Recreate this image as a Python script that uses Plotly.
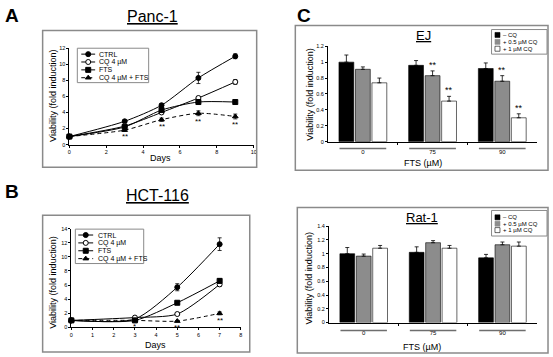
import plotly.graph_objects as go

W, H = 553, 357
FONT = "Liberation Sans, Arial, Helvetica, sans-serif"

# ---------------- data ----------------
series_names = ["CTRL", "CQ 4 µM", "FTS", "CQ 4 µM + FTS"]

# A: Panc-1
panc_days = [0, 3, 5, 7, 9]
panc_ctrl = [1.0, 2.9, 4.9, 8.3, 11.0]
panc_ctrl_err = [0.1, 0.15, 0.2, 0.7, 0.3]
panc_cq = [1.0, 2.3, 4.0, 5.8, 7.8]
panc_cq_err = [0.1, 0.1, 0.15, 0.2, 0.3]
panc_fts = [1.0, 2.2, 4.3, 5.3, 5.3]
panc_fts_err = [0.1, 0.1, 0.15, 0.15, 0.15]
panc_cqfts = [1.0, 1.8, 3.1, 3.9, 3.5]
panc_cqfts_err = [0.1, 0.15, 0.2, 0.3, 0.3]
panc_sig = ["", "**", "**", "**", "**"]

# B: HCT-116
hct_days = [0, 3, 5, 7]
hct_ctrl = [1.0, 1.2, 5.7, 11.8]
hct_ctrl_err = [0.1, 0.1, 0.5, 0.9]
hct_cq = [1.0, 1.4, 1.9, 6.1]
hct_cq_err = [0.1, 0.1, 0.15, 0.3]
hct_fts = [1.0, 1.0, 3.5, 6.6]
hct_fts_err = [0.1, 0.1, 0.2, 0.3]
hct_cqfts = [1.0, 1.0, 0.9, 2.0]
hct_cqfts_err = [0.1, 0.1, 0.1, 0.2]
hct_sig = ["", "*", "**", "**"]

# C: EJ and Rat-1
fts_doses = ["0", "75", "90"]
cq_names = ["– CQ", "+ 0.5 µM CQ", "+ 1 µM CQ"]
ej_vals = [[1.0, 0.96, 0.92], [0.91, 0.83, 0.76], [0.74, 0.51, 0.30]]
ej_err = [[0.09, 0.06, 0.07], [0.03, 0.06, 0.07], [0.06, 0.06, 0.05]]
ej_sig = [["", "", ""], ["", "**", "**"], ["", "**", "**"]]
rat_vals = [[1.0, 1.02, 0.94], [0.965, 1.16, 1.13], [1.08, 1.08, 1.11]]
rat_err = [[0.09, 0.08, 0.05], [0.03, 0.03, 0.04], [0.04, 0.04, 0.06]]

# ---------------- styles ----------------
line_styles = [
    dict(symbol="circle", fill="black", dash="solid"),
    dict(symbol="circle", fill="white", dash="solid"),
    dict(symbol="square", fill="black", dash="solid"),
    dict(symbol="triangle-up", fill="black", dash="4px,3px"),
]
bar_colors = ["black", "#8c8c8c", "white"]
BARGAP = 0.29
BARGROUPGAP = 0.1
MSIZE = 5


def px(x):
    return x / W


def py(y):
    return 1 - y / H


fig = go.Figure()
annotations = []
shapes = []


def add_lines(days, series, errs, sig, xa, ya):
    for name, ys, es, st in zip(series_names, series, errs, line_styles):
        fig.add_trace(go.Scatter(
            x=days, y=ys, mode="lines+markers", name=name,
            line=dict(color="black", width=1, dash=st["dash"], shape="spline", smoothing=0.7),
            marker=dict(symbol=st["symbol"], size=MSIZE, color=st["fill"],
                        line=dict(color="black", width=1)),
            error_y=dict(type="data", array=es, color="black", thickness=0.8, width=2),
            xaxis=xa, yaxis=ya, showlegend=False, cliponaxis=False))
    last = series[-1]
    lerr = errs[-1]
    for d, v, e, s in zip(days, last, lerr, sig):
        if s:
            annotations.append(dict(x=d, y=v - e, xref=xa, yref=ya, text=s, showarrow=False,
                                    yanchor="top", yshift=1, height=6, valign="top",
                                    font=dict(size=8, family=FONT, color="black")))


add_lines(panc_days, [panc_ctrl, panc_cq, panc_fts, panc_cqfts],
          [panc_ctrl_err, panc_cq_err, panc_fts_err, panc_cqfts_err], panc_sig, "x", "y")
add_lines(hct_days, [hct_ctrl, hct_cq, hct_fts, hct_cqfts],
          [hct_ctrl_err, hct_cq_err, hct_fts_err, hct_cqfts_err], hct_sig, "x2", "y2")

slot = (1 - BARGAP) / 3
for xa, ya, vals, errs, sig in [("x3", "y3", ej_vals, ej_err, ej_sig),
                                ("x4", "y4", rat_vals, rat_err, None)]:
    for i, (name, v, e, c) in enumerate(zip(cq_names, vals, errs, bar_colors)):
        fig.add_trace(go.Bar(
            x=list(range(len(fts_doses))), y=v, name=name, offsetgroup=str(i),
            marker=dict(color=c, line=dict(color="black", width=0.6)),
            error_y=dict(type="data", array=e, arrayminus=[0] * len(e), symmetric=False,
                         color="black", thickness=0.8, width=2),
            xaxis=xa, yaxis=ya, showlegend=False))
        if sig:
            for j, s in enumerate(sig[i]):
                if s:
                    annotations.append(dict(x=j + (i - 1) * slot, y=v[j] + e[j], xref=xa, yref=ya,
                                            text=s, showarrow=False, yanchor="bottom", yshift=-1,
                                            font=dict(size=9, family=FONT, color="black")))
    # gray group underline
    for j in range(len(fts_doses)):
        yline = 148 if xa == "x3" else 333
        shapes.append(dict(type="line", xref=xa, yref="paper", x0=j - 0.335, x1=j + 0.335,
                           y0=py(yline), y1=py(yline), line=dict(color="#6e6e6e", width=1.5)))

# ---------------- legends (drawn in an overlay pixel axis) ----------------
def line_legend(ys, x0, x1, xm, xt, box):
    for name, y, st in zip(series_names, ys, line_styles):
        fig.add_trace(go.Scatter(x=[x0, x1], y=[y, y], mode="lines",
                                 line=dict(color="black", width=1, dash=st["dash"]),
                                 xaxis="x5", yaxis="y5", showlegend=False, hoverinfo="skip"))
        fig.add_trace(go.Scatter(x=[xm], y=[y], mode="markers",
                                 marker=dict(symbol=st["symbol"], size=MSIZE, color=st["fill"],
                                             line=dict(color="black", width=1)),
                                 xaxis="x5", yaxis="y5", showlegend=False, hoverinfo="skip"))
        annotations.append(dict(x=px(xt), y=py(y), xref="paper", yref="paper", text=name,
                                showarrow=False, xanchor="left", yanchor="middle",
                                font=dict(size=7, family=FONT, color="black")))
    shapes.append(dict(type="rect", xref="paper", yref="paper", x0=px(box[0]), x1=px(box[1]),
                       y0=py(box[2]), y1=py(box[3]), line=dict(color="#8a8a8a", width=1)))


def bar_legend(ys, xs, xt, box):
    for name, y, c in zip(cq_names, ys, bar_colors):
        fig.add_trace(go.Scatter(x=[xs], y=[y], mode="markers",
                                 marker=dict(symbol="square", size=5, color=c,
                                             line=dict(color="black" if c == "white" else c, width=0.6)),
                                 xaxis="x5", yaxis="y5", showlegend=False, hoverinfo="skip"))
        annotations.append(dict(x=px(xt), y=py(y), xref="paper", yref="paper", text=name,
                                showarrow=False, xanchor="left", yanchor="middle",
                                font=dict(size=6, family=FONT, color="black")))
    shapes.append(dict(type="rect", xref="paper", yref="paper", x0=px(box[0]), x1=px(box[1]),
                       y0=py(box[2]), y1=py(box[3]), line=dict(color="#8a8a8a", width=1)))


line_legend([52, 60, 68, 76], 80, 94, 87, 96, (76, 148, 46, 81))
line_legend([236, 244, 252, 260], 77, 92, 84.5, 95, (74, 143, 230, 265))
bar_legend([32.5, 39.5, 46.5], 500, 504, (494, 550, 27, 52))
bar_legend([218, 224.5, 231], 500, 504, (494, 550, 211, 237))

# ---------------- panel frames ----------------
for (x0, x1, y0, y1) in [(41, 257, 28, 167), (41, 250, 216, 355),
                         (296, 551, 23, 170), (298, 551, 208, 356)]:
    shapes.append(dict(type="rect", xref="paper", yref="paper", x0=px(x0), x1=px(x1),
                       y0=py(y0), y1=py(y1), line=dict(color="#8a8a8a", width=1.5)))

# ---------------- text ----------------
def txt(x, y, s, size, bold=False, angle=0):
    annotations.append(dict(x=px(x), y=py(y), xref="paper", yref="paper",
                            text=f"<b>{s}</b>" if bold else s, showarrow=False,
                            xanchor="center", yanchor="middle", textangle=angle,
                            font=dict(size=size, family=FONT, color="black")))


txt(10, 13, "A", 19, bold=True)
txt(10, 192, "B", 19, bold=True)
txt(305, 13, "C", 19, bold=True)
txt(152, 14, "<u>Panc-1</u>", 16)
txt(157, 196, "<u>HCT-116</u>", 16)
txt(425, 33, "<u>EJ</u>", 13)
txt(424, 218, "<u>Rat-1</u>", 13)
txt(52, 95, "Viability (fold induction)", 9, angle=-90)
txt(52, 285, "Viability (fold induction)", 9, angle=-90)
txt(311, 93, "Viability (fold induction)", 9, angle=-90)
txt(310, 280, "Viability (fold induction)", 9, angle=-90)
txt(160, 158, "Days", 9)
txt(155, 348, "Days", 9)
txt(425, 163, "FTS (µM)", 9)
txt(424, 350, "FTS (µM)", 9)

# ---------------- axes ----------------
tickfont = dict(size=5.5, family=FONT, color="black")
common = dict(showline=True, linecolor="black", linewidth=1, ticks="outside", ticklen=2,
              tickwidth=0.8, tickcolor="black", tickfont=tickfont, showgrid=False,
              zeroline=False, fixedrange=True)

bar_x = dict(common, range=[-0.5, 2.5], tickvals=list(range(len(fts_doses))), ticktext=fts_doses,
             ticks="", ticklabelstandoff=4, tickfont=dict(size=6, family=FONT, color="black"),
             minor=dict(tickvals=[0.5, 1.5], ticks="outside", ticklen=2.5, tickcolor="black"))

fig.update_layout(
    width=W, height=H, margin=dict(l=0, r=0, t=0, b=0),
    paper_bgcolor="white", plot_bgcolor="rgba(0,0,0,0)",
    font=dict(family=FONT, color="black"),
    barmode="group", bargap=BARGAP, bargroupgap=BARGROUPGAP,
    showlegend=False,
    xaxis=dict(common, domain=[px(68), px(254)], range=[0, 10], dtick=2, anchor="y"),
    yaxis=dict(common, domain=[py(144), py(46)], range=[0, 12], dtick=2, anchor="x"),
    xaxis2=dict(common, domain=[px(70), px(241)], range=[0, 8], dtick=1, anchor="y2"),
    yaxis2=dict(common, domain=[py(330), py(229.5)], range=[0, 14], dtick=2, anchor="x2"),
    xaxis3=dict(bar_x, domain=[px(329), px(540)], anchor="y3"),
    yaxis3=dict(common, domain=[py(141), py(44)], range=[0, 1.2], dtick=0.2, anchor="x3"),
    xaxis4=dict(bar_x, domain=[px(330), px(540)], anchor="y4"),
    yaxis4=dict(common, domain=[py(325), py(227)], range=[0, 1.4], dtick=0.2, anchor="x4"),
    xaxis5=dict(domain=[0, 1], range=[0, W], visible=False, fixedrange=True, anchor="y5"),
    yaxis5=dict(domain=[0, 1], range=[H, 0], visible=False, fixedrange=True, anchor="x5"),
    annotations=annotations,
    shapes=shapes,
)

fig.write_html("out.html", config={"displayModeBar": False},
               post_script="document.body.style.margin='0';document.body.style.overflow='hidden';")
